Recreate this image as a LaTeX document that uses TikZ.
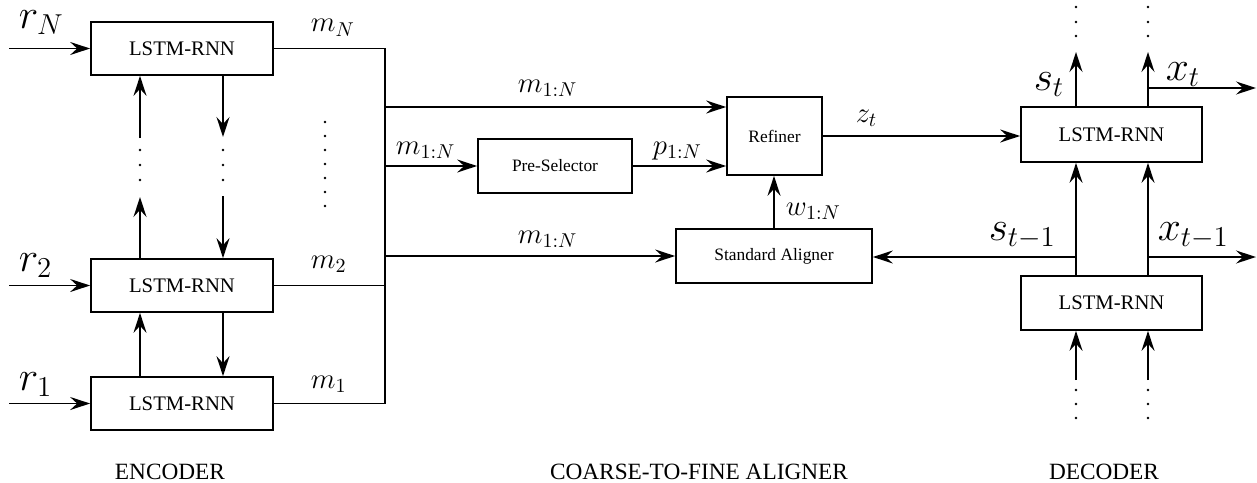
\documentclass[tikz,border=0pt]{standalone}
\usepackage{fontspec}
\setmainfont{Liberation Serif}
\usetikzlibrary{arrows.meta}
\begin{document}
\begin{tikzpicture}[x=0.5pt,y=-0.5pt,
  line width=0.85pt, line join=miter,
  arr/.style={-{Stealth[length=10pt,width=6.5pt,inset=3.5pt]}},
  box/.style={draw, inner sep=0pt, font=\fontsize{8.7}{10}\selectfont},
  lbox/.style={box, minimum width=91pt, minimum height=26.5pt, font=\fontsize{10.35}{12}\selectfont},
  mlab/.style={inner sep=0pt, anchor=base west, font=\fontsize{14.4}{17}\selectfont},
  blab/.style={inner sep=0pt, anchor=base west, font=\fontsize{19.5}{23}\selectfont},
  caplab/.style={inner sep=0pt, anchor=base, font=\fontsize{11.65}{14}\selectfont},
  dotpt/.style={radius=0.7pt}
]
\useasboundingbox (0,0) rectangle (1257,482);

% ---------------- Encoder ----------------
\node[lbox] (eN) at (182,48.5) {LSTM-RNN};
\node[lbox] (e2) at (182,285.5) {LSTM-RNN};
\node[lbox] (e1) at (182,403.5) {LSTM-RNN};

\coordinate (inN) at (9,48.5);
\coordinate (in2) at (9,285.5);
\coordinate (in1) at (9,403.5);
\draw[arr] (inN) -- (eN.west);
\draw[arr] (in2) -- (e2.west);
\draw[arr] (in1) -- (e1.west);
\node[blab] (lrN) at (18,28) {$r_N$};
\node[blab] (lr2) at (18,271) {$r_2$};
\node[blab] (lr1) at (18,390) {$r_1$};

\coordinate (xu) at (140,0);
\coordinate (xd) at (223,0);
\coordinate (uN) at (140,138);
\coordinate (u2) at (140,197);
\coordinate (dN) at (223,137);
\coordinate (d2) at (223,196);
\draw[arr] (uN) -- (eN.south -| xu);
\draw[arr] (e2.north -| xu) -- (u2);
\draw[arr] (eN.south -| xd) -- (dN);
\draw[arr] (d2) -- (e2.north -| xd);
\draw[arr] (e1.north -| xu) -- (e2.south -| xu);
\draw[arr] (e2.south -| xd) -- (e1.north -| xd);
\foreach \yy in {150,165,180} {
  \fill (140,\yy) circle[dotpt];
  \fill (223,\yy) circle[dotpt];
}
\foreach \yy in {122,136,150,164,178,192,206} {
  \fill (325,\yy) circle[dotpt];
}

% bus
\coordinate (bt) at (385,48.5);
\coordinate (bb) at (385,403.5);
\draw (eN.east) -- (bt) -- (bb) -- (e1.east);
\draw (e2.east) -- (e2.east -| bt);
\node[mlab] (lmN) at (310,32) {$m_N$};
\node[mlab] (lm2) at (310,268) {$m_2$};
\node[mlab] (lm1) at (310,388) {$m_1$};

% ---------------- Aligner ----------------
\node[box, minimum width=47.5pt, minimum height=39pt] (ref) at (774.5,136) {Refiner};
\node[box, minimum width=77pt, minimum height=27pt] (ps) at (555,166) {Pre-Selector};
\node[box, minimum width=98pt, minimum height=27pt] (sa) at (774,256) {Standard Aligner};

\coordinate (b1) at (385,107);
\draw[arr] (b1) -- (b1 -| ref.west);
\draw[arr] (ps.west -| bt) -- (ps.west);
\draw[arr] (ps.east) -- (ps.east -| ref.west);
\draw[arr] (sa.west -| bt) -- (sa.west);
\draw[arr] (sa.north) -- (sa.north |- ref.south);

\node[mlab] (lm1a) at (517,92) {$m_{1:N}$};
\node[mlab] (lm1b) at (395,154) {$m_{1:N}$};
\node[mlab] (lp) at (652,154) {$p_{1:N}$};
\node[mlab] (lm1c) at (517,243) {$m_{1:N}$};
\node[mlab] (lw) at (785,215) {$w_{1:N}$};
\node[mlab] (lz) at (855,122) {$z_t$};

% ---------------- Decoder ----------------
\node[lbox, minimum width=90.5pt, minimum height=27.5pt] (dt) at (1111.5,134.5) {LSTM-RNN};
\node[lbox, minimum width=90.5pt, minimum height=27pt] (db) at (1111.5,303) {LSTM-RNN};

\draw[arr] (ref.east) -- (ref.east -| dt.west);

\coordinate (xs) at (1076,0);
\coordinate (xx) at (1148,0);
\draw[arr] (db.north -| xs) -- (dt.south -| xs);
\draw[arr] (db.north -| xx) -- (dt.south -| xx);

\coordinate (sb) at (1076,257);
\draw[arr] (sb) -- (sb -| sa.east);
\coordinate (xb) at (1148,257);
\coordinate (xe) at (1256,257);
\draw[arr] (xb) -- (xe);

\coordinate (st) at (1076,52);
\coordinate (xt) at (1148,52);
\draw[arr] (dt.north -| xs) -- (st);
\draw[arr] (dt.north -| xx) -- (xt);
\coordinate (xtb) at (1148,88);
\coordinate (xte) at (1256,88);
\draw[arr] (xtb) -- (xte);

\coordinate (sbot) at (1076,380);
\coordinate (xbot) at (1148,380);
\draw[arr] (sbot) -- (db.south -| sbot);
\draw[arr] (xbot) -- (db.south -| xbot);

\foreach \yy in {7,22,36,390,404,418} {
  \fill (1076,\yy) circle[dotpt];
  \fill (1148,\yy) circle[dotpt];
}

\node[blab] (lst) at (1033,90) {$s_t$};
\node[blab] (lxt) at (1165,80) {$x_t$};
\node[blab] (lst1) at (988,240) {$s_{t-1}$};
\node[blab] (lxt1) at (1157,240) {$x_{t-1}$};

% ---------------- Captions ----------------
\node[caplab] (cenc) at (170,479) {ENCODER};
\node[caplab] (calg) at (699,479) {COARSE-TO-FINE ALIGNER};
\node[caplab] (cdec) at (1104,479) {DECODER};
\end{tikzpicture}
\end{document}
